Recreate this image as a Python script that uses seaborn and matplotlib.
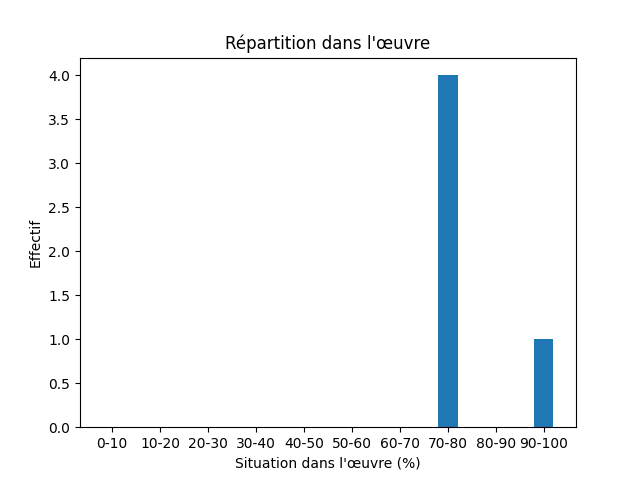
import matplotlib
matplotlib.use("Agg")
import matplotlib.pyplot as plt
import seaborn as sns
import pandas as pd

categories = ["0-10", "10-20", "20-30", "30-40", "40-50", "50-60", "60-70", "70-80", "80-90", "90-100"]
counts = [0, 0, 0, 0, 0, 0, 0, 4, 0, 1]

df = pd.DataFrame({"cat": categories, "n": counts})

fig, ax = plt.subplots(figsize=(6.4, 4.8), dpi=100)
sns.barplot(data=df, x="cat", y="n", ax=ax, color="#1f77b4", saturation=1, width=0.4)
n = len(categories)
pad = (n - 1 + 0.4) * 0.05
ax.set_xlim(-0.2 - pad, n - 1 + 0.2 + pad)
ax.set_ylim(0, max(counts) * 1.05)
ax.set_title("Répartition dans l'œuvre")
ax.set_xlabel("Situation dans l'œuvre (%)")
ax.set_ylabel("Effectif")
fig.savefig("out.png", dpi=100)
